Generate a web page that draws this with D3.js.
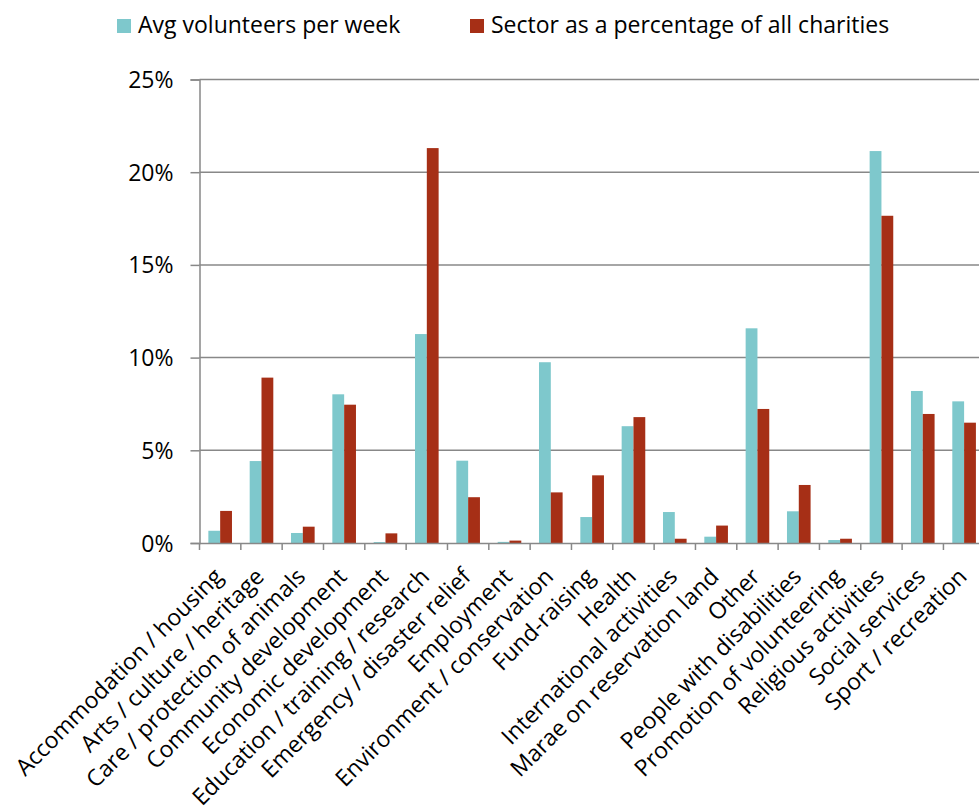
<!DOCTYPE html>
<html>
<head>
<meta charset="utf-8">
<script src="https://cdn.jsdelivr.net/npm/d3@7"></script>
<style>
  html, body { margin: 0; padding: 0; background: #fff; overflow: hidden; }
  svg { display: block; }
  text { font-family: "Open Sans", "Noto Sans", sans-serif; fill: #000; }
</style>
</head>
<body>
<svg id="chart" width="979" height="809"></svg>
<script>
const categories = [
  "Accommodation / housing",
  "Arts / culture / heritage",
  "Care / protection of animals",
  "Community development",
  "Economic development",
  "Education / training / research",
  "Emergency / disaster relief",
  "Employment",
  "Environment / conservation",
  "Fund-raising",
  "Health",
  "International activities",
  "Marae on reservation land",
  "Other",
  "People with disabilities",
  "Promotion of volunteering",
  "Religious activities",
  "Social services",
  "Sport / recreation"
];
const seriesNames = ["Avg volunteers per week", "Sector as a percentage of all charities"];
const avgVolunteers = [0.66, 4.42, 0.54, 8.02, 0.05, 11.27, 4.44, 0.06, 9.75, 1.40, 6.30, 1.67, 0.34, 11.58, 1.71, 0.16, 21.14, 8.20, 7.64];
const sectorShare   = [1.73, 8.92, 0.88, 7.46, 0.52, 21.30, 2.47, 0.13, 2.73, 3.65, 6.79, 0.23, 0.94, 7.23, 3.13, 0.23, 17.65, 6.96, 6.49];
const yTicks = [0, 5, 10, 15, 20, 25];
const colors = ["#7ec8cc", "#a62f16"];

const svg = d3.select("#chart");
const FS = 23;

const plot = { left: 199.5, top: 79.5, bottom: 543 };
const step = 41.33;
const x = d3.scaleBand().domain(categories)
  .range([plot.left, plot.left + step * categories.length]).padding(0);
const xs = d3.scaleBand().domain(seriesNames).range([0, x.bandwidth()])
  .paddingInner(0).paddingOuter(0.75);
const y = d3.scaleLinear().domain([0, 25]).range([plot.bottom, plot.top]);

// gridlines
const grid = svg.append("g");
grid.selectAll("line").data(yTicks.filter(d => d > 0)).join("line")
  .attr("x1", plot.left).attr("x2", 979)
  .attr("y1", d => y(d)).attr("y2", d => y(d))
  .attr("stroke", "#888").attr("stroke-width", 1.5);

// bars
const rows = categories.map((c, i) => ({ c, vals: [avgVolunteers[i], sectorShare[i]] }));
const gcat = svg.append("g").selectAll("g").data(rows).join("g")
  .attr("transform", d => `translate(${x(d.c)},0)`);
gcat.selectAll("rect").data(d => d.vals.map((v, k) => ({ k, v }))).join("rect")
  .attr("x", d => xs(seriesNames[d.k]))
  .attr("width", xs.bandwidth())
  .attr("y", d => y(d.v))
  .attr("height", d => y(0) - y(d.v))
  .attr("fill", d => colors[d.k]);

// y axis
const yAxis = d3.axisLeft(y).tickValues(yTicks).tickSize(9).tickFormat(d => d + "%");
const gy = svg.append("g").attr("transform", `translate(${plot.left},0)`).call(yAxis);
gy.select(".domain").attr("stroke", "#888").attr("stroke-width", 1.5);
gy.selectAll(".tick line").attr("stroke", "#888").attr("stroke-width", 1.5);
gy.selectAll(".tick text").attr("font-size", FS).attr("x", -26).attr("dy", "0.35em")
  .style("font-family", "'Open Sans', sans-serif").attr("fill", "#000");

// x axis
const xAxis = d3.axisBottom(x).tickSize(0).tickFormat("");
const gx = svg.append("g").attr("transform", `translate(0,${plot.bottom})`).call(xAxis);
gx.select(".domain").attr("stroke", "#888").attr("stroke-width", 1.5);
gx.selectAll(".tick").remove();
const boundaries = d3.range(categories.length + 1).map(i => plot.left + i * x.step());
gx.selectAll("line.bt").data(boundaries).join("line").attr("class", "bt")
  .attr("x1", d => d).attr("x2", d => d).attr("y1", 0).attr("y2", 7)
  .attr("stroke", "#888").attr("stroke-width", 1.5);
gx.selectAll("text.cl").data(categories).join("text").attr("class", "cl")
  .attr("transform", d => `translate(${x(d) + x.bandwidth() / 2 + 4},${35}) rotate(-45)`)
  .attr("text-anchor", "end")
  .attr("font-size", FS)
  .text(d => d);

// legend
const legendX = [117, 470];
const lg = svg.append("g").selectAll("g").data(seriesNames).join("g")
  .attr("transform", (d, i) => `translate(${legendX[i]},19)`);
lg.append("rect").attr("width", 14).attr("height", 14).attr("fill", (d, i) => colors[i]);
lg.append("text").attr("x", 21).attr("y", 14).attr("font-size", FS).text(d => d);
</script>
</body>
</html>
